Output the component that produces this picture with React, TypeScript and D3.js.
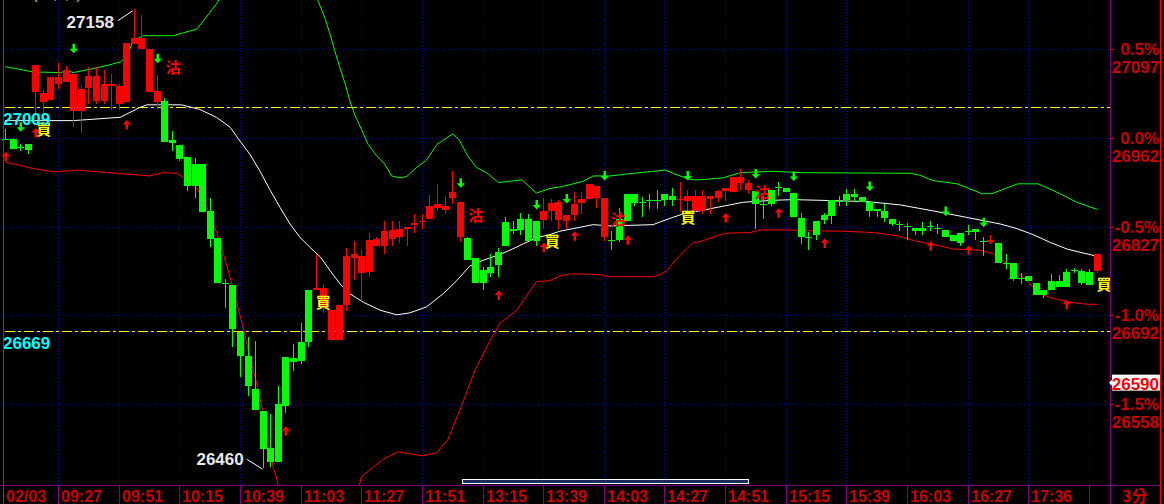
import React, { useEffect } from 'react';
import * as d3 from 'd3';

const W = 1164;
const H = 504;
const PLOT_RIGHT = 1110;
const PLOT_BOTTOM = 485;
const BASE = 26962;

// [open, high, low, close] per 3-minute bar
const ohlc: [number, number, number, number][] = [
  [26960, 26976, 26959, 26959], [26960, 26962, 26945, 26945], [26948, 26953, 26942, 26947], [26953, 26953, 26938, 26944],
  [27031, 27073, 27000, 27073], [27017, 27036, 27000, 27030], [27019, 27054, 27019, 27054], [27043, 27076, 27036, 27054],
  [27046, 27071, 27046, 27065], [27002, 27059, 26979, 27059], [27002, 27041, 26969, 27036], [27037, 27069, 27014, 27056],
  [27018, 27069, 27014, 27056], [27018, 27065, 27014, 27043], [27040, 27059, 27004, 27043], [27014, 27044, 27004, 27040],
  [27017, 27106, 27017, 27106], [27105, 27158, 27105, 27113], [27097, 27148, 27097, 27113], [27032, 27097, 27032, 27097],
  [27016, 27057, 27004, 27033], [27018, 27022, 26956, 26956], [26959, 26973, 26942, 26954], [26951, 26951, 26927, 26930],
  [26933, 26933, 26881, 26888], [26922, 26931, 26870, 26889], [26922, 26922, 26849, 26849], [26850, 26871, 26796, 26808],
  [26810, 26810, 26741, 26741], [26742, 26748, 26703, 26741], [26739, 26739, 26644, 26671], [26667, 26667, 26599, 26631],
  [26630, 26659, 26569, 26585], [26581, 26653, 26549, 26549], [26547, 26547, 26460, 26489], [26491, 26542, 26462, 26469],
  [26558, 26585, 26469, 26469], [26629, 26629, 26544, 26554], [26628, 26649, 26608, 26622], [26651, 26681, 26618, 26623],
  [26730, 26730, 26644, 26652], [26731, 26786, 26731, 26734], [26703, 26740, 26696, 26734], [26655, 26700, 26653, 26700],
  [26655, 26708, 26655, 26708], [26708, 26795, 26699, 26783], [26779, 26805, 26746, 26785], [26756, 26791, 26713, 26782],
  [26758, 26817, 26750, 26806], [26797, 26812, 26797, 26808], [26798, 26836, 26785, 26820], [26808, 26835, 26797, 26822],
  [26811, 26835, 26802, 26823], [26823, 26827, 26798, 26827], [26829, 26846, 26817, 26833], [26834, 26846, 26824, 26836],
  [26838, 26875, 26838, 26858], [26855, 26892, 26851, 26861], [26853, 26873, 26846, 26859], [26870, 26911, 26862, 26880],
  [26811, 26864, 26803, 26864], [26810, 26812, 26776, 26776], [26779, 26779, 26742, 26742], [26761, 26765, 26730, 26742],
  [26766, 26786, 26750, 26757], [26789, 26795, 26750, 26768], [26834, 26842, 26798, 26798], [26823, 26836, 26816, 26820],
  [26839, 26847, 26814, 26822], [26839, 26846, 26805, 26805], [26836, 26836, 26797, 26805], [26837, 26870, 26824, 26850],
  [26851, 26869, 26836, 26863], [26837, 26868, 26824, 26864], [26836, 26845, 26824, 26845], [26845, 26880, 26836, 26861],
  [26863, 26880, 26846, 26869], [26869, 26891, 26869, 26891], [26870, 26889, 26856, 26889], [26811, 26871, 26805, 26871],
  [26807, 26821, 26792, 26807], [26839, 26856, 26803, 26806], [26876, 26876, 26836, 26836], [26876, 26876, 26858, 26863],
  [26864, 26872, 26842, 26864], [26868, 26876, 26854, 26868], [26867, 26882, 26854, 26867], [26876, 26876, 26859, 26867],
  [26874, 26885, 26859, 26867], [26867, 26895, 26849, 26869], [26866, 26882, 26849, 26873], [26850, 26882, 26849, 26873],
  [26850, 26883, 26846, 26874], [26869, 26874, 26846, 26874], [26871, 26882, 26865, 26881], [26881, 26885, 26865, 26885],
  [26879, 26902, 26879, 26902], [26893, 26915, 26883, 26903], [26883, 26898, 26877, 26893], [26881, 26881, 26824, 26861],
  [26861, 26874, 26839, 26861], [26883, 26883, 26859, 26861], [26887, 26895, 26874, 26887], [26886, 26886, 26879, 26879],
  [26878, 26878, 26842, 26842], [26840, 26847, 26801, 26811], [26811, 26819, 26792, 26811], [26836, 26836, 26806, 26814],
  [26844, 26847, 26831, 26837], [26867, 26867, 26831, 26843], [26866, 26874, 26858, 26866], [26877, 26884, 26858, 26867],
  [26876, 26884, 26864, 26872], [26872, 26872, 26865, 26865], [26864, 26864, 26841, 26851], [26854, 26854, 26842, 26850],
  [26850, 26862, 26834, 26840], [26839, 26839, 26828, 26831], [26831, 26836, 26820, 26831], [26828, 26833, 26807, 26828],
  [26825, 26825, 26815, 26820], [26825, 26834, 26815, 26820], [26828, 26836, 26821, 26828], [26825, 26831, 26816, 26825],
  [26822, 26822, 26811, 26811], [26814, 26814, 26805, 26805], [26817, 26817, 26798, 26802], [26820, 26829, 26814, 26820],
  [26823, 26823, 26807, 26819], [26805, 26811, 26782, 26805], [26803, 26814, 26801, 26806], [26802, 26802, 26772, 26772],
  [26772, 26785, 26762, 26772], [26771, 26771, 26745, 26748], [26749, 26756, 26740, 26749], [26752, 26752, 26744, 26744],
  [26742, 26742, 26723, 26723], [26730, 26730, 26718, 26723], [26745, 26755, 26730, 26730], [26745, 26753, 26736, 26736],
  [26758, 26762, 26735, 26735], [26761, 26764, 26756, 26761], [26759, 26762, 26739, 26742], [26758, 26762, 26738, 26739],
  [26759, 26785, 26757, 26785],
];

// Bollinger bands, [bar index, price]
const upperBand: [number, number][] = [
  [0, 27070], [3.7, 27062], [7.3, 27061], [8.2, 27064], [9, 27061], [11.2, 27066], [13.5, 27072], [15.2, 27077],
  [16.1, 27086], [16.9, 27109], [18.2, 27117], [22.2, 27117], [23.4, 27121], [25.3, 27127], [27, 27152], [28, 27167],
  [31, 27230], [35, 27283], [38.9, 27238], [41.4, 27167], [42.2, 27144], [42.9, 27119], [43.5, 27094], [44.2, 27068],
  [44.9, 27043], [45.5, 27018], [46.2, 26995], [47.1, 26973], [47.9, 26952], [49, 26935], [50.1, 26922], [51, 26904],
  [52.1, 26901], [53, 26903], [54.3, 26917], [55.6, 26928], [57, 26952], [58.3, 26962], [59.1, 26968], [60, 26957],
  [61.1, 26933], [62.2, 26917], [63.5, 26909], [65.1, 26894], [68.2, 26898], [70.1, 26878], [71.9, 26885], [73.6, 26888],
  [76.3, 26896], [77.6, 26904], [79.8, 26904], [82.1, 26907], [83.8, 26909], [85.5, 26911], [87.1, 26913], [88.1, 26908],
  [90, 26900], [91, 26898], [92.6, 26899], [94.7, 26901], [97, 26909], [101.3, 26911], [104.9, 26909], [119.4, 26908],
  [120.7, 26905], [122.4, 26897], [125.6, 26892], [128.9, 26877], [130.2, 26877], [131.3, 26882], [133.6, 26892],
  [136.3, 26892], [139.2, 26877], [141.4, 26864], [144.1, 26853],
];
const midBand: [number, number][] = [
  [0, 26988], [3.7, 26988], [9, 26988], [13.9, 26992], [15.2, 26993], [17.8, 27008], [18.7, 27012], [23.3, 27012],
  [25.7, 27005], [27.9, 26993], [29.7, 26978], [31, 26957], [32.3, 26937], [33.6, 26912], [35, 26882], [36.3, 26856],
  [37.6, 26831], [38.9, 26811], [40.2, 26796], [41.6, 26781], [42.9, 26760], [44.2, 26740], [45.5, 26725], [47.3, 26712],
  [49.5, 26700], [51.7, 26693], [53.4, 26696], [55.6, 26705], [57.8, 26725], [59.6, 26745], [61.3, 26767], [63.1, 26776],
  [64.9, 26783], [66.6, 26791], [68.4, 26801], [70.1, 26810], [71.9, 26815], [73.2, 26820], [77.6, 26830], [79.8, 26828],
  [85.5, 26830], [86.4, 26834], [88.1, 26841], [89.9, 26848], [91.7, 26851], [93.4, 26855], [95.6, 26860], [97.4, 26864],
  [101.3, 26867], [104, 26868], [107.5, 26867], [113.7, 26865], [118.1, 26860], [122.4, 26851], [126.9, 26841],
  [131.3, 26831], [133.5, 26824], [135.6, 26815], [137.9, 26803], [140.1, 26793], [142.2, 26787], [144.1, 26782],
];
const lowerBand: [number, number][] = [
  [0, 26925], [2, 26920], [3.7, 26915], [6.6, 26910], [9.6, 26913], [12.5, 26910], [15.8, 26907], [19.1, 26904],
  [20.8, 26909], [22.7, 26908], [23.5, 26902], [24.8, 26892], [26.1, 26872], [27, 26846], [28, 26816], [28.8, 26786],
  [29.7, 26750], [30.6, 26710], [31.4, 26675], [32.3, 26629], [33.2, 26589], [34, 26548], [34.7, 26503], [35.4, 26460],
  [35.8, 26447], [37.6, 26351], [41.6, 26321], [45.5, 26367], [47, 26447], [49.8, 26473], [51.8, 26485], [54.9, 26479],
  [56.9, 26483], [58.4, 26503], [60, 26548], [62, 26609], [64, 26654], [65.3, 26680], [67.5, 26700], [68.4, 26715],
  [69.3, 26730], [70.1, 26743], [71.9, 26745], [73.2, 26752], [74.5, 26755], [76.5, 26755], [78.5, 26754], [79.7, 26751],
  [85.5, 26751], [86.4, 26754], [87.3, 26760], [88.6, 26778], [89.9, 26793], [90.8, 26803], [91.7, 26804], [93.4, 26811],
  [95, 26817], [98.3, 26818], [99.6, 26822], [103.6, 26822], [104.9, 26821], [110.6, 26820], [114.5, 26818],
  [117.7, 26813], [119.8, 26806], [122.4, 26800], [125.1, 26793], [128.6, 26791], [130.3, 26786], [132.2, 26771],
  [134.8, 26745], [136.5, 26725], [138.3, 26718], [140.5, 26712], [142.8, 26709], [144.1, 26709],
];

const timeLabels = ['09:27', '09:51', '10:15', '10:39', '11:03', '11:27', '11:51', '13:15', '13:39',
  '14:03', '14:27', '14:51', '15:15', '15:39', '16:03', '16:27', '17:36', ''];
const dateLabel = '02/03';
const periodLabel = '3分';
const headerLabel = '(20,2,2)';
const pctLevels = [0.5, 0, -0.5, -1.0, -1.5];
const pctLabels = ['0.5%', '0.0%', '-0.5%', '-1.0%', '-1.5%'];
const priceLabels = ['27097', '26962', '26827', '26692', '26558'];
const refLevels = [27009, 26669];
const lastPrice = 26590;

// signals: [bar index, price]
const sellArrows: [number, number][] = [
  [2, 26978], [9, 27097], [20, 27082], [60, 26893], [70, 26860], [74, 26869], [79, 26904],
  [90, 26904], [99, 26907], [104, 26903], [114, 26888], [124, 26850], [129, 26833],
];
const buyArrows: [number, number][] = [
  [0, 26934], [4, 26970], [16, 26982], [37, 26517], [65, 26723], [71, 26796], [75, 26813],
  [82, 26807], [95, 26841], [102, 26848], [108, 26802], [122, 26798], [127, 26792], [140, 26709],
];
const buyTags: [number, number][] = [[5.1, 26976], [42, 26714], [72.2, 26806], [90.1, 26842], [145, 26741]];
const sellTags: [number, number][] = [[22.2, 27070], [62.1, 26845], [80.9, 26840], [99.9, 26881]];

const RED = '#ff0000';
const GREEN = '#00ff00';
const AXIS_RED = '#cc0000';
const PURPLE = '#800080';
const GRID_BLUE = '#0000b8';
const FONT = '"Liberation Sans", Arial, sans-serif';
const CJK = '"Noto Sans CJK TC", "Noto Sans CJK SC", sans-serif';

export default function App() {
  useEffect(() => {
    document.body.style.margin = '0';
    document.body.style.background = '#000';
    document.body.style.overflow = 'hidden';
  }, []);

  const x = d3.scaleLinear().domain([0, 144]).range([5, 5 + 7.58 * 144]);
  const y = d3.scaleLinear().domain([BASE * 0.985, BASE * 1.005]).range([404, 49]);
  const line = d3.line<[number, number]>().x((d) => x(d[0])).y((d) => y(d[1]));

  const tickIdx = timeLabels.map((_, k) => 7 + 8 * k);
  const hiIdx = d3.maxIndex(ohlc, (d) => d[1]);
  const loIdx = d3.minIndex(ohlc, (d) => d[2]);
  const bw = 6;

  const downArrow = (cx: number, cy: number) =>
    `M${cx - 1},${cy - 5}h2.5v5h3l-4.25,4.5l-4.25,-4.5h3z`;
  const upArrow = (cx: number, cy: number) =>
    `M${cx - 1},${cy + 5}h2.5v-5h3l-4.25,-4.5l-4.25,4.5h3z`;

  return (
    <svg width={W} height={H} style={{ position: 'fixed', left: 0, top: 0, background: '#000' }}>
      <defs>
        <clipPath id="plot">
          <rect x={0} y={0} width={PLOT_RIGHT} height={PLOT_BOTTOM} />
        </clipPath>
      </defs>
      <rect x={0} y={0} width={W} height={H} fill="#000" />

      {/* grid */}
      <g shapeRendering="crispEdges">
        {pctLevels.map((p) => (
          <line key={p} x1={4} x2={PLOT_RIGHT} y1={Math.round(y(BASE * (1 + p / 100))) + 0.5}
            y2={Math.round(y(BASE * (1 + p / 100))) + 0.5} stroke={GRID_BLUE} strokeDasharray="1,2" />
        ))}
        {tickIdx.map((t) => (
          <line key={t} x1={Math.round(x(t)) + 0.5} x2={Math.round(x(t)) + 0.5} y1={0} y2={PLOT_BOTTOM}
            stroke={GRID_BLUE} strokeDasharray="1,2" />
        ))}
      </g>

      {/* reference levels */}
      {refLevels.map((v) => (
        <line key={v} x1={5} x2={PLOT_RIGHT} y1={Math.round(y(v)) + 0.5} y2={Math.round(y(v)) + 0.5}
          stroke="#ffff00" strokeDasharray="10,3,3,3" shapeRendering="crispEdges" />
      ))}

      <g clipPath="url(#plot)">
        {/* header (cut off at the top) */}
        <text x={33} y={-1} fill="#d8d8d8" fontFamily={FONT} fontSize={14}>{headerLabel}</text>

        {/* bands */}
        <path d={line(upperBand) || ''} fill="none" stroke={GREEN} strokeWidth={1} />
        <path d={line(lowerBand) || ''} fill="none" stroke={RED} strokeWidth={1} />
        <path d={line(midBand) || ''} fill="none" stroke="#ffffff" strokeWidth={1} />

        {/* candles */}
        <g shapeRendering="crispEdges">
          {ohlc.map(([o, h, l, c], i) => {
            const cx = Math.round(x(i));
            const up = c > o;
            const doji = c === o;
            const col = up ? RED : GREEN;
            const top = y(Math.max(o, c));
            const bot = y(Math.min(o, c));
            return (
              <g key={i}>
                <line x1={cx + 0.5} x2={cx + 0.5} y1={y(h)} y2={y(l)} stroke={col} />
                {doji ? (
                  <line x1={cx - bw / 2} x2={cx + bw / 2 + 1} y1={Math.round(top) + 0.5} y2={Math.round(top) + 0.5} stroke={col} />
                ) : (
                  <rect x={cx - bw / 2} y={top} width={bw + 1} height={Math.max(1, bot - top)} fill={col} />
                )}
              </g>
            );
          })}
        </g>

        {/* signals */}
        {sellArrows.map(([i, v]) => (
          <path key={'s' + i} d={downArrow(Math.round(x(i)) + 0.5, y(v))} fill={GREEN} />
        ))}
        {buyArrows.map(([i, v]) => (
          <path key={'b' + i} d={upArrow(Math.round(x(i)) + 0.5, y(v))} fill={RED} />
        ))}
        {buyTags.map(([i, v]) => (
          <text key={'bt' + i} x={x(i)} y={y(v)} fill="#ffff00" fontFamily={CJK} fontWeight="bold"
            fontSize={15} textAnchor="middle" dominantBaseline="central">買</text>
        ))}
        {sellTags.map(([i, v]) => (
          <text key={'st' + i} x={x(i)} y={y(v)} fill={RED} fontFamily={CJK} fontWeight="bold"
            fontSize={15} textAnchor="middle" dominantBaseline="central">沽</text>
        ))}

        {/* high / low annotations */}
        <line x1={x(hiIdx) - 1} y1={y(ohlc[hiIdx][1]) + 2} x2={x(hiIdx) - 16} y2={y(ohlc[hiIdx][1]) + 12} stroke="#fff" />
        <text x={x(hiIdx) - 20} y={y(ohlc[hiIdx][1]) + 19} fill="#e8e8e8" fontFamily={FONT} fontWeight="bold"
          fontSize={17} textAnchor="end">{ohlc[hiIdx][1]}</text>
        <line x1={x(loIdx)} y1={y(ohlc[loIdx][2]) + 1} x2={x(loIdx) - 16} y2={y(ohlc[loIdx][2]) - 9} stroke="#fff" />
        <text x={x(loIdx) - 19} y={y(ohlc[loIdx][2]) - 3} fill="#e8e8e8" fontFamily={FONT} fontWeight="bold"
          fontSize={17} textAnchor="end">{ohlc[loIdx][2]}</text>

        {/* reference level labels */}
        {refLevels.map((v) => (
          <text key={'r' + v} x={3} y={y(v) + 18} fill="#00ffff" fontFamily={FONT} fontWeight="bold" fontSize={17}>{v}</text>
        ))}
      </g>

      {/* frame */}
      <g shapeRendering="crispEdges">
        <line x1={3.5} x2={3.5} y1={0} y2={H} stroke={RED} />
        <line x1={1160.5} x2={1160.5} y1={0} y2={H} stroke={RED} />
        <line x1={PLOT_RIGHT + 0.5} x2={PLOT_RIGHT + 0.5} y1={0} y2={H} stroke={PURPLE} />
        <line x1={0} x2={1161} y1={PLOT_BOTTOM + 0.5} y2={PLOT_BOTTOM + 0.5} stroke={PURPLE} />
        {tickIdx.map((t) => (
          <line key={'t' + t} x1={Math.round(x(t)) + 0.5} x2={Math.round(x(t)) + 0.5} y1={PLOT_BOTTOM} y2={H} stroke={PURPLE} />
        ))}
        {pctLevels.map((p) => (
          <line key={'pt' + p} x1={PLOT_RIGHT} x2={PLOT_RIGHT + 4} y1={Math.round(y(BASE * (1 + p / 100))) + 0.5}
            y2={Math.round(y(BASE * (1 + p / 100))) + 0.5} stroke={AXIS_RED} />
        ))}
      </g>

      {/* scroll bar */}
      <rect x={462.5} y={479.5} width={286} height={4} fill="#1c2c5c" stroke="#ffffff" shapeRendering="crispEdges" />

      {/* time axis labels */}
      <text x={6} y={502} fill={AXIS_RED} fontFamily={FONT} fontWeight="bold" fontSize={16}>{dateLabel}</text>
      {timeLabels.map((lab, k) => (
        <text key={'tl' + k} x={Math.round(x(tickIdx[k])) + 3} y={502} fill={AXIS_RED} fontFamily={FONT}
          fontWeight="bold" fontSize={16}>{lab}</text>
      ))}
      <text x={1122} y={502} fill={AXIS_RED} fontFamily={CJK} fontWeight="bold" fontSize={16}>{periodLabel}</text>

      {/* price axis labels */}
      {pctLevels.map((p, k) => {
        const yy = y(BASE * (1 + p / 100));
        return (
          <g key={'pl' + p}>
            <text x={1159} y={yy + 6} fill={AXIS_RED} fontFamily={FONT} fontWeight="bold" fontSize={17} textAnchor="end">{pctLabels[k]}</text>
            <text x={1159} y={yy + 24} fill={AXIS_RED} fontFamily={FONT} fontWeight="bold" fontSize={17} textAnchor="end">{priceLabels[k]}</text>
          </g>
        );
      })}

      {/* last price tag */}
      <g>
        <path d={`M${PLOT_RIGHT - 1},${y(lastPrice)} l4,-4 v8 z`} fill="#ffffff" />
        <rect x={1112} y={y(lastPrice) - 8} width={48} height={16} fill="#ffffff" />
        <text x={1159} y={y(lastPrice) + 7} fill={RED} fontFamily={FONT} fontWeight="bold" fontSize={17} textAnchor="end">{lastPrice}</text>
      </g>
    </svg>
  );
}
